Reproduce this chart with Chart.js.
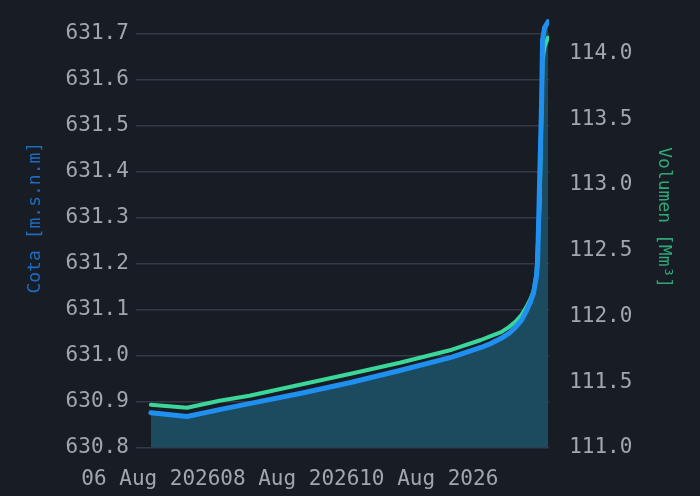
<!DOCTYPE html>
<html>
<head>
<meta charset="utf-8">
<script src="https://cdn.jsdelivr.net/npm/chart.js@4.4.1/dist/chart.umd.min.js"></script>
<style>
  html, body { margin: 0; padding: 0; background: #181c25; }
  #wrap { position: relative; width: 700px; height: 496px; overflow: hidden; background: #181c25; }
  #inner { position: absolute; left: 0; top: -45px; width: 700px; height: 556px; }
</style>
</head>
<body>
<div id="wrap">
  <div id="inner"><canvas id="chart"></canvas></div>
</div>
<script>
// hours since 06 Aug 2026 00:00
const hours = [0, 12.5, 23.7, 34, 51.5, 69, 86, 104, 114, 117.6, 121, 123.8,
               126, 128, 129.7, 131.1, 132.2, 133.2, 133.6, 134.3, 135, 135.3, 136, 137.2];

// Cota [m.s.n.m]
const cota = [630.876, 630.868, 630.883, 630.896, 630.918, 630.942, 630.968, 630.997, 631.018, 631.027, 631.038, 631.049,
              631.062, 631.077, 631.097, 631.117, 631.136, 631.173, 631.202, 631.381, 631.555, 631.686, 631.713, 631.726];

// Volumen [Mm³]
const volumen = [111.327, 111.304, 111.358, 111.396, 111.480, 111.563, 111.647, 111.746, 111.820, 111.852, 111.880, 111.920,
                 111.960, 112.010, 112.070, 112.130, 112.190, 112.320, 112.500, 112.870, 113.630, 113.940, 114.050, 114.120];

const xTickHours = [0, 48, 96];
const xTickLabels = ['06 Aug 2026', '08 Aug 2026', '10 Aug 2026'];

const cotaTicks = [630.8, 630.9, 631.0, 631.1, 631.2, 631.3, 631.4, 631.5, 631.6, 631.7, 631.8];
const volumenTicks = [111.0, 111.5, 112.0, 112.5, 113.0, 113.5, 114.0, 114.5];

const blue = '#1f8ff0';
const green = '#3ad69a';
const fillColor = '#1c4b60';
const tickColor = '#a2a6ad';
const gridColor = '#343944';

Chart.defaults.font.family = '"DejaVu Sans Mono", monospace';

const config = {
    type: 'line',
    data: {
        datasets: [{
            label: 'Cota',
            data: hours.map((h, i) => ({x: h, y: cota[i]})),
            yAxisID: 'y',
            borderColor: blue,
            borderWidth: 5,
            backgroundColor: fillColor,
            fill: 'start',
            pointRadius: 0,
            tension: 0,
            borderCapStyle: 'round',
            borderJoinStyle: 'round'
        }, {
            label: 'Volumen',
            data: hours.map((h, i) => ({x: h, y: volumen[i]})),
            yAxisID: 'y1',
            borderColor: green,
            borderWidth: 4,
            fill: false,
            pointRadius: 0,
            tension: 0,
            borderCapStyle: 'round',
            borderJoinStyle: 'round'
        }]
    },
    options: {
        responsive: true,
        maintainAspectRatio: false,
        animation: false,
        layout: {padding: {top: 0, bottom: 0, left: 0, right: 0}},
        plugins: {
            legend: {display: false},
            tooltip: {enabled: false},
            filler: {drawTime: 'beforeDatasetsDraw'}
        },
        scales: {
            x: {
                type: 'linear',
                min: -5.2,
                max: 137.6,
                grid: {display: false, drawTicks: false},
                border: {display: false},
                afterBuildTicks: (scale) => {
                    scale.ticks = xTickHours.map(v => ({value: v}));
                },
                ticks: {
                    autoSkip: false,
                    maxRotation: 0,
                    padding: 19,
                    color: tickColor,
                    font: {size: 21},
                    callback: (value) => xTickLabels[xTickHours.indexOf(value)]
                }
            },
            y: {
                position: 'left',
                min: 630.8,
                max: 631.8,
                grid: {color: gridColor, lineWidth: 1.5, drawTicks: false},
                border: {display: false},
                afterBuildTicks: (scale) => {
                    scale.ticks = cotaTicks.map(v => ({value: v}));
                },
                ticks: {
                    padding: 7,
                    color: tickColor,
                    font: {size: 21},
                    callback: (value) => value.toFixed(1)
                },
                title: {
                    display: true,
                    text: 'Cota [m.s.n.m]',
                    color: '#1d6cc0',
                    font: {size: 18},
                    padding: {top: 25, bottom: 12}
                }
            },
            y1: {
                position: 'right',
                min: 111.0,
                max: 114.5,
                grid: {display: false, drawTicks: false},
                border: {display: false},
                afterBuildTicks: (scale) => {
                    scale.ticks = volumenTicks.map(v => ({value: v}));
                },
                ticks: {
                    padding: 20,
                    color: tickColor,
                    font: {size: 21},
                    callback: (value) => value.toFixed(1)
                },
                title: {
                    display: true,
                    text: 'Volumen [Mm³]',
                    color: '#2ea877',
                    font: {size: 18},
                    padding: {top: 26, bottom: 0}
                }
            }
        }
    }
};

new Chart(document.getElementById('chart'), config);
</script>
</body>
</html>
